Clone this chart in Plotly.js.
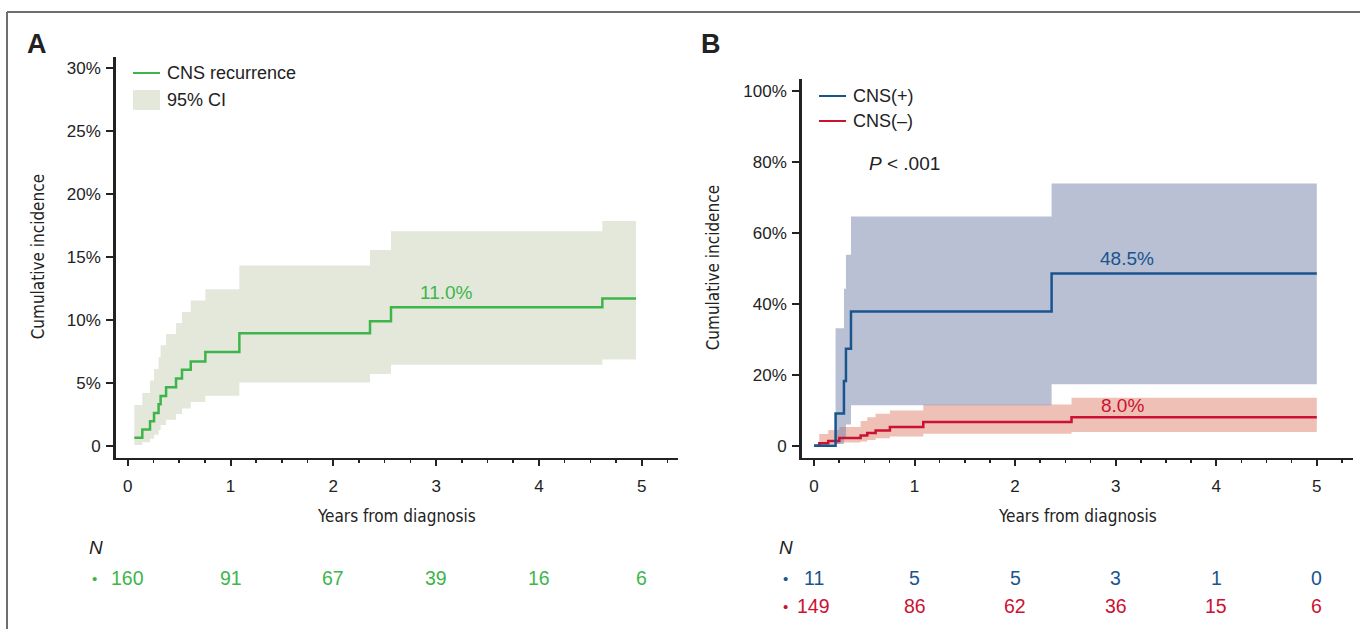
<!DOCTYPE html>
<html>
<head>
<meta charset="utf-8">
<script src="https://cdn.plot.ly/plotly-3.0.1.min.js"></script>
<style>html,body{margin:0;padding:0;background:#fff;}#chart{width:1360px;height:629px;}</style>
</head>
<body>
<div id="chart"></div>
<script>
// ---------- Data ----------
// Panel A: CNS recurrence (cumulative incidence, %)
var tA  = [0.064, 0.142, 0.217, 0.256, 0.300, 0.320, 0.373, 0.470, 0.528, 0.613, 0.755, 1.086, 2.357, 2.561, 4.617, 4.945];
var cA  = [0.63, 1.30, 1.95, 2.60, 3.30, 3.95, 4.65, 5.35, 6.05, 6.70, 7.45, 8.95, 9.90, 11.0, 11.7, 11.7];
var loA = [0.06, 0.27, 0.56, 0.87, 1.25, 1.64, 2.06, 2.52, 2.97, 3.47, 3.97, 5.03, 5.70, 6.43, 6.86, 6.86];
var hiA = [3.23, 4.20, 5.19, 6.11, 7.04, 7.99, 8.89, 9.76, 10.64, 11.54, 12.44, 14.32, 15.56, 17.04, 17.86, 17.86];

// Panel B: CNS(+) group
var tBpos  = [0, 0.215, 0.298, 0.318, 0.368, 2.363, 5.0];
var cBpos  = [0, 9.1, 18.2, 27.3, 37.8, 48.5, 48.5];
var tBposCI = [0.215, 0.298, 0.318, 0.368, 2.363, 5.0];
var loBpos = [0.5, 2.0, 6.0, 11.4, 17.3, 17.3];
var hiBpos = [33.1, 44.2, 53.8, 64.6, 73.9, 73.9];

// Panel B: CNS(-) group
var tBneg  = [0, 0.053, 0.142, 0.252, 0.464, 0.530, 0.613, 0.755, 1.087, 2.561, 5.0];
var cBneg  = [0, 0.67, 1.3, 2.2, 2.9, 3.6, 4.3, 5.25, 6.7, 8.0, 8.0];
var tBnegCI = [0.053, 0.142, 0.252, 0.464, 0.530, 0.613, 0.755, 1.087, 2.561, 5.0];
var loBneg = [0.0, 0.5, 0.9, 1.2, 1.6, 2.1, 2.6, 3.4, 3.9, 3.9];
var hiBneg = [3.3, 4.4, 5.3, 7.0, 8.0, 9.0, 9.9, 11.6, 13.5, 13.5];

// Numbers at risk at years 0..5
var riskYears = [0, 1, 2, 3, 4, 5];
var nA    = [160, 91, 67, 39, 16, 6];
var nBpos = [11, 5, 5, 3, 1, 0];
var nBneg = [149, 86, 62, 36, 15, 6];

// Tick labels
var yTickValsA = [0, 5, 10, 15, 20, 25, 30];
var yTickTextA = ['0', '5%', '10%', '15%', '20%', '25%', '30%'];
var yTickValsB = [0, 20, 40, 60, 80, 100];
var yTickTextB = ['0', '20%', '40%', '60%', '80%', '100%'];

// ---------- Styling ----------
var W = 1360, H = 629;
function px(x){ return x / W; }
function py(y){ return 1 - y / H; }
var FONT = '"Liberation Sans", Arial, Helvetica, sans-serif';
var NARROW = '"Liberation Sans Narrow", "Arial Narrow", "DejaVu Sans Condensed", "Liberation Sans", sans-serif';
var GREEN = 'rgb(61,181,74)', BLUE = 'rgb(24,84,142)', RED = 'rgb(203,18,50)';
var TXT = '#222';

function stepBand(t, lo, hi){
  var xs = [], ys = [], i;
  for (i = 0; i < t.length - 1; i++){ xs.push(t[i], t[i+1]); ys.push(hi[i], hi[i]); }
  for (i = t.length - 2; i >= 0; i--){ xs.push(t[i+1], t[i]); ys.push(lo[i], lo[i]); }
  return {x: xs, y: ys};
}

var bA = stepBand(tA, loA, hiA);
var bPos = stepBand(tBposCI, loBpos, hiBpos);
var bNeg = stepBand(tBnegCI, loBneg, hiBneg);

var traces = [
  {x: bA.x, y: bA.y, xaxis:'x', yaxis:'y', type:'scatter', mode:'lines', fill:'toself',
   fillcolor:'rgb(228,232,218)', line:{width:0}, hoverinfo:'skip', showlegend:false},
  {x: tA, y: cA, xaxis:'x', yaxis:'y', type:'scatter', mode:'lines', line:{color:GREEN, width:2.5, shape:'hv'}, showlegend:false},
  {x: bNeg.x, y: bNeg.y, xaxis:'x2', yaxis:'y2', type:'scatter', mode:'lines', fill:'toself',
   fillcolor:'rgba(221,129,109,0.5)', line:{width:0}, hoverinfo:'skip', showlegend:false},
  {x: bPos.x, y: bPos.y, xaxis:'x2', yaxis:'y2', type:'scatter', mode:'lines', fill:'toself',
   fillcolor:'rgba(115,129,169,0.5)', line:{width:0}, hoverinfo:'skip', showlegend:false},
  {x: tBneg, y: cBneg, xaxis:'x2', yaxis:'y2', type:'scatter', mode:'lines', line:{color:RED, width:2.5, shape:'hv'}, showlegend:false},
  {x: tBpos, y: cBpos, xaxis:'x2', yaxis:'y2', type:'scatter', mode:'lines', line:{color:BLUE, width:2.5, shape:'hv'}, showlegend:false}
];

function xAxisDef(domain, range){
  return {domain: domain, range: range, showgrid:false, zeroline:false, showline:true, linecolor:TXT, linewidth:2.5,
    ticks:'outside', ticklen:6, tickwidth:2, tickcolor:TXT, tick0:0, dtick:1, ticklabelstandoff:5,
    tickfont:{family:FONT, size:17, color:TXT},
    minor:{dtick:0.25, tick0:0, ticks:'outside', ticklen:3, tickwidth:1.5, tickcolor:TXT, showgrid:false},
    fixedrange:true};
}
function yAxisDef(domain, range, vals, text, anchor){
  return {domain: domain, range: range, anchor: anchor, showgrid:false, zeroline:false, showline:true, linecolor:TXT, linewidth:2.5,
    ticks:'outside', ticklen:7, tickwidth:2, tickcolor:TXT, tickmode:'array', tickvals: vals, ticktext: text,
    ticklabelstandoff:2, tickfont:{family:FONT, size:17, color:TXT}, fixedrange:true};
}

var xA = xAxisDef([px(115.7), px(678)], [-0.117, 5.353]); xA.anchor = 'y';
var xB = xAxisDef([px(801.7), px(1353)], [-0.122, 5.36]); xB.anchor = 'y2';

var layout = {
  width: W, height: H, margin:{l:0, r:0, t:0, b:0}, paper_bgcolor:'#fff', plot_bgcolor:'rgba(0,0,0,0)',
  showlegend:false,
  xaxis: xA,
  yaxis: yAxisDef([py(457.7), py(57)], [-0.95, 30.9], yTickValsA, yTickTextA, 'x'),
  xaxis2: xB,
  yaxis2: yAxisDef([py(457.7), py(79)], [-3.37, 103.3], yTickValsB, yTickTextB, 'x2'),
  shapes: [],
  annotations: []
};

var S = layout.shapes, A = layout.annotations;
// frame
S.push({type:'line', xref:'paper', yref:'paper', x0:px(7), x1:1, y0:py(12), y1:py(12), line:{color:'#6e6e6e', width:2}});
S.push({type:'line', xref:'paper', yref:'paper', x0:px(7), x1:px(7), y0:py(12), y1:0, line:{color:'#6e6e6e', width:2}});

// legends (drawn)
S.push({type:'line', xref:'paper', yref:'paper', x0:px(133), x1:px(160), y0:py(73), y1:py(73), line:{color:GREEN, width:2}});
S.push({type:'rect', xref:'paper', yref:'paper', x0:px(133), x1:px(160), y0:py(90), y1:py(110), fillcolor:'rgb(228,232,218)', line:{width:0}});
S.push({type:'line', xref:'paper', yref:'paper', x0:px(819), x1:px(846), y0:py(96), y1:py(96), line:{color:BLUE, width:2}});
S.push({type:'line', xref:'paper', yref:'paper', x0:px(819), x1:px(846), y0:py(121), y1:py(121), line:{color:RED, width:2}});

function txt(o){
  var base = {showarrow:false, xref:'paper', yref:'paper', font:{family:FONT, size:18, color:TXT}, xanchor:'left', yanchor:'middle'};
  for (var k in o){ base[k] = o[k]; }
  A.push(base);
}
txt({x:px(165), y:py(73), text:'CNS recurrence'});
txt({x:px(165), y:py(100), text:'95% CI'});
txt({x:px(851), y:py(96), text:'CNS(+)'});
txt({x:px(851), y:py(121), text:'CNS(\u2013)'});

// panel letters
txt({x:px(25), y:py(44), text:'<b>A</b>', font:{family:FONT, size:27, color:TXT}});
txt({x:px(699), y:py(44), text:'<b>B</b>', font:{family:FONT, size:27, color:TXT}});

// axis titles
var TF = {family:NARROW, size:17, color:TXT};
txt({x:(px(115.7)+px(678))/2, y:py(516), xanchor:'center', text:'Years from diagnosis', font:TF});
txt({x:(px(801.7)+px(1353))/2, y:py(516), xanchor:'center', text:'Years from diagnosis', font:TF});
txt({x:px(38), y:(py(57)+py(457.7))/2, xanchor:'center', textangle:-90, text:'Cumulative incidence', font:TF});
txt({x:px(713), y:(py(79)+py(457.7))/2, xanchor:'center', textangle:-90, text:'Cumulative incidence', font:TF});

// P value
txt({x:px(867), y:py(163), text:'<i>P</i> < .001', font:{family:FONT, size:19, color:TXT}});

// curve end labels (data coordinates)
A.push({showarrow:false, xref:'x', yref:'y', x:3.1, y:cA[13], yshift:15, text:'11.0%', font:{family:FONT, size:19, color:GREEN}});
A.push({showarrow:false, xref:'x2', yref:'y2', x:3.11, y:cBpos[5], yshift:15, text:'48.5%', font:{family:FONT, size:19, color:BLUE}});
A.push({showarrow:false, xref:'x2', yref:'y2', x:3.07, y:cBneg[9], yshift:12, text:'8.0%', font:{family:FONT, size:19, color:RED}});

// numbers at risk
txt({x:px(87), y:py(547), text:'<i>N</i>', font:{family:FONT, size:19, color:TXT}});
txt({x:px(777), y:py(547), text:'<i>N</i>', font:{family:FONT, size:19, color:TXT}});
txt({x:px(94), y:py(578), xanchor:'center', text:'\u2022', font:{family:FONT, size:15, color:GREEN}});
txt({x:px(786), y:py(578), xanchor:'center', text:'\u2022', font:{family:FONT, size:15, color:BLUE}});
txt({x:px(786), y:py(606), xanchor:'center', text:'\u2022', font:{family:FONT, size:15, color:RED}});
for (var i = 0; i < riskYears.length; i++){
  A.push({showarrow:false, xref:'x', yref:'paper', x:riskYears[i], y:py(578), xanchor:'center', yanchor:'middle', text:String(nA[i]), font:{family:FONT, size:19.5, color:GREEN}});
  A.push({showarrow:false, xref:'x2', yref:'paper', x:riskYears[i], y:py(578), xanchor:'center', yanchor:'middle', text:String(nBpos[i]), font:{family:FONT, size:19.5, color:BLUE}});
  A.push({showarrow:false, xref:'x2', yref:'paper', x:riskYears[i], y:py(606), xanchor:'center', yanchor:'middle', text:String(nBneg[i]), font:{family:FONT, size:19.5, color:RED}});
}

Plotly.newPlot('chart', traces, layout, {displayModeBar:false, staticPlot:true});
</script>
</body>
</html>
